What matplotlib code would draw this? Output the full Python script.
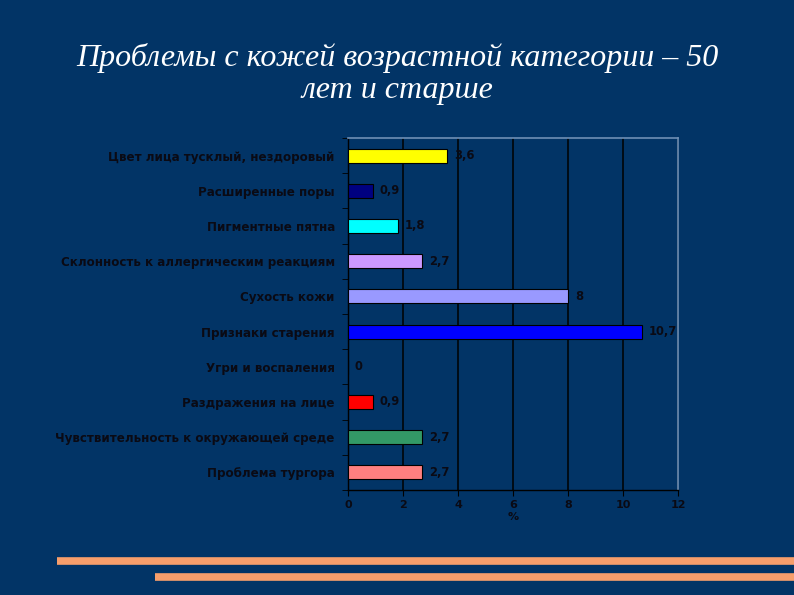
import matplotlib
matplotlib.use("Agg")
import matplotlib.pyplot as plt
from matplotlib.lines import Line2D

categories = [
    "Цвет лица тусклый, нездоровый",
    "Расширенные поры",
    "Пигментные пятна",
    "Склонность к аллергическим реакциям",
    "Сухость кожи",
    "Признаки старения",
    "Угри и воспаления",
    "Раздражения на лице",
    "Чувствительность к окружающей среде",
    "Проблема тургора",
]
values = [3.6, 0.9, 1.8, 2.7, 8, 10.7, 0, 0.9, 2.7, 2.7]
value_labels = ["3,6", "0,9", "1,8", "2,7", "8", "10,7", "0", "0,9", "2,7", "2,7"]
colors = ["#FFFF00", "#000080", "#00FFFF", "#CC99FF", "#9999FF",
          "#0000FF", "#FFFFFF", "#FF0000", "#339966", "#FF8080"]
xticks = [0, 2, 4, 6, 8, 10, 12]
title = "Проблемы с кожей возрастной категории – 50\nлет и старше"

BG = "#023466"
TXT = "#0a0a14"
fig = plt.figure(figsize=(7.94, 5.95), dpi=100, facecolor=BG)

ax = fig.add_axes([348/794, 1-490/595, (678-348)/794, (490-138)/595])
ax.set_facecolor(BG)
n = len(categories)
ypos = list(range(n))
ax.barh(ypos, values, height=0.4, color=colors, edgecolor="#000000", linewidth=0.8, zorder=3)
ax.set_ylim(n - 0.5, -0.5)
ax.set_xlim(0, 12)
ax.set_xticks(xticks)
ax.set_xticklabels([str(t) for t in xticks], fontsize=8, fontweight="bold", color=TXT)
ax.set_yticks(ypos)
ax.set_yticklabels(categories, fontsize=8.6, fontweight="bold", color=TXT)
ax.tick_params(axis="y", length=0, pad=9.5)
ax.tick_params(axis="x", length=4, color="#000000", direction="out", pad=3)
ax.set_yticks([i + 0.5 for i in range(-1, n)], minor=True)
ax.tick_params(axis="y", which="minor", length=4, color="#000000")
ax.xaxis.grid(True, color="#000000", linewidth=1.1, zorder=0)
ax.set_axisbelow(True)
ax.set_xlabel("%", fontsize=8, fontweight="bold", color=TXT, labelpad=2)
for s in ["left", "bottom"]:
    ax.spines[s].set_color("#000000")
    ax.spines[s].set_linewidth(1.0)
for s in ["top", "right"]:
    ax.spines[s].set_color("#6f8fb5")
    ax.spines[s].set_linewidth(1.2)

for y, v, lab in zip(ypos, values, value_labels):
    ax.text(v + 0.25, y, lab, va="center", ha="left", fontsize=8.3,
            fontweight="bold", color=TXT, zorder=4)

fig.text(0.5, 1 - 74/595, title, ha="center", va="center", fontsize=23,
         family="Liberation Serif", style="italic", color="white", linespacing=1.15)

# decorative orange lines
fig.add_artist(Line2D([57/794, 1], [1 - 561/595] * 2, transform=fig.transFigure,
                      color="#F79E6B", linewidth=5.5, solid_capstyle="butt"))
fig.add_artist(Line2D([155/794, 1], [1 - 577/595] * 2, transform=fig.transFigure,
                      color="#F79E6B", linewidth=5.5, solid_capstyle="butt"))

fig.savefig("out.png", dpi=100, facecolor=BG)
